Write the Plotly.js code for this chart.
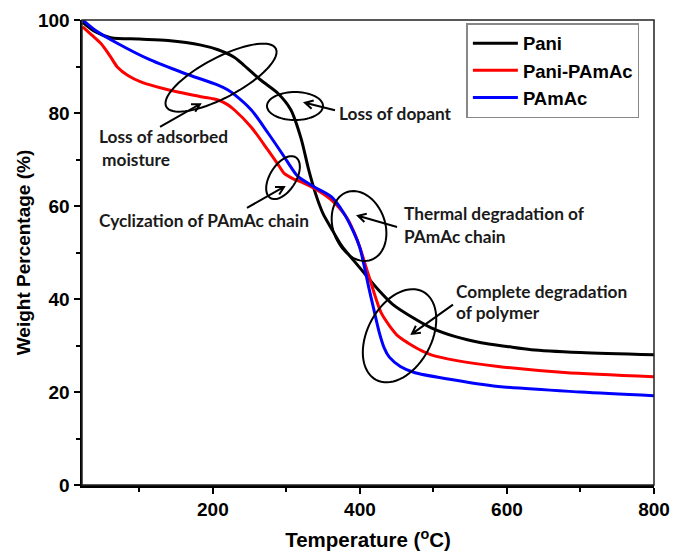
<!DOCTYPE html>
<html>
<head>
<meta charset="utf-8">
<script src="https://cdn.plot.ly/plotly-3.0.1.min.js"></script>
<style>html,body{margin:0;padding:0;background:#fff;}#chart{width:674px;height:553px;}</style>
</head>
<body>
<div id="chart"></div>
<script>
// ---- data ----
const seriesNames = ["Pani", "Pani-PAmAc", "PAmAc"];

const paniT = [23, 40, 61, 100, 139, 184, 207, 229, 242, 265, 288, 306, 320, 330, 340, 350, 360, 375, 392, 410, 425, 445, 474, 497, 530, 565, 600, 633, 700, 800];
const paniW = [99.5, 97.5, 96.2, 95.9, 95.6, 94.6, 93.6, 92.0, 90.3, 87.1, 84.3, 80.7, 74.5, 68.0, 62.5, 58.3, 55.5, 51.5, 48.2, 44.8, 42.0, 38.8, 35.8, 33.8, 31.9, 30.6, 29.8, 29.1, 28.5, 28.0];

const paniPamacT = [23, 35, 47.5, 60, 70, 85, 102, 139, 184, 207, 220, 229, 252, 275, 290, 297, 310, 320, 340, 361, 375, 384, 393, 401, 408, 415, 422, 429, 440, 452, 466, 480, 497, 530, 588, 678, 800];
const paniPamacW = [98.5, 96.8, 95.0, 92.3, 89.9, 88.0, 86.7, 85.0, 83.5, 82.8, 81.8, 80.7, 77.0, 72.0, 68.6, 67.0, 65.8, 65.2, 63.6, 61.3, 59.0, 57.0, 54.0, 50.6, 47.0, 43.5, 40.0, 37.0, 34.3, 32.0, 30.5, 29.2, 28.0, 26.8, 25.5, 24.2, 23.3];

const pamacT = [23, 40, 70, 115, 160, 207, 220, 229, 252, 275, 297, 306, 316, 338, 361, 378, 392, 400, 406, 412, 419, 426, 433, 440, 455, 474, 520, 588, 700, 800];
const pamacW = [100, 97.8, 95.0, 91.4, 88.6, 86.0, 85.0, 84.0, 80.7, 75.7, 70.6, 68.4, 66.3, 64.1, 62.0, 58.5, 54.2, 51.0, 47.0, 42.5, 37.7, 33.0, 29.5, 27.5, 25.5, 24.2, 22.8, 21.2, 20.0, 19.2];

const seriesColors = ["#000000", "#ff0000", "#0000ff"];

// ---- annotation content (data coordinates) ----
const noteTexts = ["Loss of adsorbed", "moisture", "Loss of dopant", "Cyclization of PAmAc chain",
                   "Thermal degradation of", "PAmAc chain", "Complete degradation", "of polymer"];
const noteX = [42.4, 46.5, 368.8, 42.4, 457.3, 457.3, 528.0, 528.0];
const noteY = [75.0, 70.0, 80.0, 56.8, 58.3, 53.4, 41.7, 37.1];

// ellipses: centre (data), semi-axes (px), rotation (deg, counter-clockwise on screen)
const ellipses = [
  {cx: 211.1, cy: 87.6, a: 62, b: 20, rot: 28},
  {cx: 311.7, cy: 81.5, a: 28, b: 14, rot: 0},
  {cx: 295.4, cy: 66.1, a: 24, b: 13, rot: 58},
  {cx: 398.8, cy: 55.7, a: 36, b: 26, rot: -70},
  {cx: 453.9, cy: 32.1, a: 50, b: 32, rot: 62}
];

// arrows: tail -> head (data)
const arrows = [
  {tx: 128.1, ty: 77.0, hx: 182.5, hy: 81.9},
  {tx: 366.1, ty: 80.6, hx: 325.3, hy: 82.2},
  {tx: 246.4, ty: 59.6, hx: 296.7, hy: 64.1},
  {tx: 450.5, ty: 55.5, hx: 397.4, hy: 57.9},
  {tx: 526.6, ty: 38.8, hx: 470.8, hy: 32.5}
];

// ---- geometry of the plot frame ----
const W = 674, H = 553;
const M = {l: 82, r: 20, t: 20, b: 67.5};
const xRange = [22, 800], yRange = [0, 100];
const pxPerX = (W - M.l - M.r) / (xRange[1] - xRange[0]);
const pxPerY = (H - M.t - M.b) / (yRange[1] - yRange[0]);

function ellipsePath(e) {
  const n = 72, th = e.rot * Math.PI / 180;
  let d = "";
  for (let i = 0; i <= n; i++) {
    const t = 2 * Math.PI * i / n;
    const ux = e.a * Math.cos(t), uy = e.b * Math.sin(t);
    const px = ux * Math.cos(th) - uy * Math.sin(th);
    const py = ux * Math.sin(th) + uy * Math.cos(th);
    const x = e.cx + px / pxPerX, y = e.cy + py / pxPerY;
    d += (i === 0 ? "M" : "L") + x.toFixed(3) + "," + y.toFixed(3);
  }
  return d + "Z";
}

function arrowPath(a) {
  const dx = (a.hx - a.tx) * pxPerX, dy = (a.hy - a.ty) * pxPerY;
  const ang = Math.atan2(dy, dx);
  const L = 9, spread = 0.5;
  const w1 = [a.hx - L * Math.cos(ang - spread) / pxPerX, a.hy - L * Math.sin(ang - spread) / pxPerY];
  const w2 = [a.hx - L * Math.cos(ang + spread) / pxPerX, a.hy - L * Math.sin(ang + spread) / pxPerY];
  const f = v => v.toFixed(3);
  return "M" + f(a.tx) + "," + f(a.ty) + "L" + f(a.hx) + "," + f(a.hy) +
         "M" + f(w1[0]) + "," + f(w1[1]) + "L" + f(a.hx) + "," + f(a.hy) + "L" + f(w2[0]) + "," + f(w2[1]);
}

const xs = [paniT, paniPamacT, pamacT];
const ys = [paniW, paniPamacW, pamacW];
const traces = seriesNames.map((nm, i) => ({
  type: "scatter", mode: "lines", name: nm,
  x: xs[i], y: ys[i],
  line: {color: seriesColors[i], width: 3, shape: "spline", smoothing: 0.8}
}));

const noteFont = {family: "Lato, 'Open Sans', sans-serif", size: 17.3, color: "#1a1a1a", weight: 700};

const annotations = noteTexts.map((t, i) => ({
  x: noteX[i], y: noteY[i], xref: "x", yref: "y", text: t, showarrow: false,
  xanchor: "left", yanchor: "middle", font: noteFont
}));

const shapes = ellipses.map(e => ({
  type: "path", xref: "x", yref: "y", path: ellipsePath(e),
  line: {color: "#000", width: 2}, fillcolor: "rgba(0,0,0,0)"
})).concat(arrows.map(a => ({
  type: "path", xref: "x", yref: "y", path: arrowPath(a),
  line: {color: "#000", width: 2}, fillcolor: "rgba(0,0,0,0)"
}))).concat([{
  type: "rect", xref: "paper", yref: "paper", x0: 0, x1: 1, y0: 0, y1: 1,
  line: {color: "#222", width: 1.5}, layer: "above"
}]);

const tickFont = {family: "'Liberation Sans', Arial, sans-serif", size: 19, color: "#000", weight: 700};
const xTitleFont = {family: "'Liberation Sans', Arial, sans-serif", size: 20.5, color: "#000", weight: 700};
const yTitleFont = {family: "'Liberation Sans', Arial, sans-serif", size: 19, color: "#000", weight: 700};

const layout = {
  width: W, height: H,
  margin: {l: M.l, r: M.r, t: M.t, b: M.b, pad: 0},
  paper_bgcolor: "#fff", plot_bgcolor: "#fff",
  showlegend: true,
  legend: {
    x: 0.672, y: 0.993, xanchor: "left", yanchor: "top",
    bgcolor: "#fff", bordercolor: "#888", borderwidth: 1.5,
    font: {family: "'Liberation Sans', Arial, sans-serif", size: 18.5, color: "#000", weight: 700},
    tracegroupgap: 0, itemwidth: 45
  },
  xaxis: {
    range: xRange, showgrid: false, zeroline: false,
    showline: true, linecolor: "#000", linewidth: 2.5,
    ticks: "outside", ticklen: 6, tickwidth: 2, tickcolor: "#000",
    tick0: 0, dtick: 200, tickfont: tickFont,
    minor: {dtick: 100, tick0: 0, ticks: "outside", ticklen: 4, tickwidth: 2, tickcolor: "#000", showgrid: false},
    title: {text: "Temperature (<sup>o</sup>C)", font: xTitleFont, standoff: 14}
  },
  yaxis: {
    range: yRange, showgrid: false, zeroline: false,
    showline: true, linecolor: "#000", linewidth: 2.5,
    ticks: "outside", ticklen: 6, tickwidth: 2, tickcolor: "#000",
    tick0: 0, dtick: 20, tickfont: tickFont,
    minor: {dtick: 10, tick0: 0, ticks: "outside", ticklen: 4, tickwidth: 2, tickcolor: "#000", showgrid: false},
    title: {text: "\u00A0\u00A0\u00A0\u00A0Weight Percentage (%)", font: yTitleFont, standoff: 3}
  },
  annotations: annotations,
  shapes: shapes
};

Plotly.newPlot("chart", traces, layout, {displayModeBar: false, staticPlot: true});
</script>
</body>
</html>
